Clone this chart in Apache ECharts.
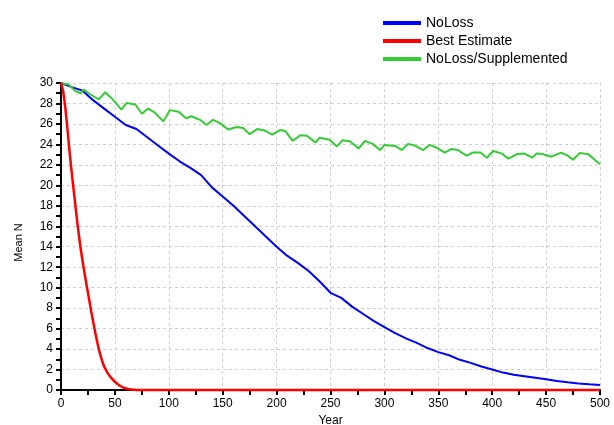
<!DOCTYPE html>
<html>
<head>
<meta charset="utf-8">
<script src="https://cdn.jsdelivr.net/npm/echarts@6/dist/echarts.min.js"></script>
<style>
  html, body { margin: 0; padding: 0; background: #fff; }
  #chart { width: 614px; height: 425px; }
</style>
</head>
<body>
<div id="chart"></div>
<script>
// Series names
const seriesNames = ['NoLoss', 'Best Estimate', 'NoLoss/Supplemented'];

// NoLoss: mean N by year
const noLossYears = [0, 10, 20, 30, 40, 50, 60, 70, 80, 90, 100, 110, 120, 130, 140, 150, 160, 170, 180, 190,
  200, 210, 220, 230, 240, 250, 260, 270, 280, 290, 300, 310, 320, 330, 340, 350, 360, 370, 380, 390,
  400, 410, 420, 430, 440, 450, 460, 470, 480, 490, 500];
const noLossValues = [30, 29.6, 29.25, 28.3, 27.5, 26.7, 25.9, 25.5, 24.7, 23.9, 23.1, 22.35, 21.7, 21.0, 19.8, 18.9, 18.0, 17.0, 16.0, 15.0,
  14.0, 13.1, 12.4, 11.6, 10.6, 9.5, 9.0, 8.15, 7.45, 6.75, 6.15, 5.55, 5.05, 4.6, 4.1, 3.7, 3.4, 2.95, 2.65, 2.3,
  2.0, 1.7, 1.5, 1.35, 1.2, 1.05, 0.88, 0.75, 0.63, 0.55, 0.49];

// Best Estimate: mean N by year
const bestYears = [0, 2, 4, 6, 8, 10, 12, 14, 16, 18, 20, 22, 24, 26, 28, 30, 32, 34, 36, 38,
  40, 43, 46, 50, 54, 58, 62, 66, 70, 500];
const bestValues = [30, 29.2, 27.6, 25.5, 23.2, 21.2, 19.3, 17.4, 15.6, 14.0, 12.6, 11.3, 10.1, 8.9, 7.7, 6.6, 5.5, 4.5, 3.6, 2.9,
  2.3, 1.7, 1.25, 0.8, 0.45, 0.22, 0.1, 0.04, 0, 0];

// NoLoss/Supplemented: mean N by year
const suppYears = [0, 7, 13, 18, 21, 27, 35, 41, 48, 56, 61, 69, 75, 81, 87, 95, 101, 109, 116, 121,
  129, 135, 141, 147, 155, 163, 169, 175, 182, 189, 196, 203, 208, 215, 222, 228, 236, 240, 249, 256,
  261, 268, 276, 282, 289, 296, 300, 310, 316, 322, 328, 336, 342, 348, 356, 362, 368, 376, 382, 389,
  395, 401, 409, 415, 423, 430, 437, 441, 447, 455, 464, 470, 475, 481, 489, 495, 500];
const suppValues = [30, 29.85, 29.25, 29.0, 29.35, 28.9, 28.4, 29.1, 28.4, 27.4, 28.05, 27.9, 27.0, 27.5, 27.1, 26.25, 27.35, 27.2, 26.55, 26.75,
  26.4, 25.9, 26.4, 26.1, 25.45, 25.7, 25.6, 25.0, 25.5, 25.35, 24.95, 25.4, 25.3, 24.35, 24.9, 24.85, 24.2, 24.65, 24.45, 23.8,
  24.4, 24.3, 23.6, 24.35, 24.05, 23.45, 23.95, 23.85, 23.45, 24.05, 23.9, 23.45, 23.95, 23.7, 23.2, 23.55, 23.45, 22.9, 23.2, 23.2,
  22.7, 23.35, 23.1, 22.6, 23.05, 23.1, 22.7, 23.1, 23.05, 22.8, 23.2, 22.9, 22.5, 23.15, 23.05, 22.5, 22.05];

const pairs = (xs, ys) => xs.map((x, i) => [x, ys[i]]);

const chart = echarts.init(document.getElementById('chart'), null, { renderer: 'canvas' });

const fontFamily = 'Liberation Sans, Arial, sans-serif';
const gridLine = { show: true, lineStyle: { color: '#cfcfcf', type: [3, 3], width: 1 } };

chart.setOption({
  animation: false,
  backgroundColor: '#ffffff',
  color: ['#0000ff', '#ff0000', '#33cc33'],
  legend: {
    data: seriesNames,
    orient: 'vertical',
    left: 378,
    top: 11,
    icon: 'rect',
    itemWidth: 38,
    itemHeight: 4,
    itemGap: 4,
    itemTextGap: 7,
    textStyle: { fontFamily, fontSize: 14, color: '#000', lineHeight: 14 }
  },
  grid: { left: 61, right: 14, top: 83, bottom: 35, containLabel: false, outerBoundsMode: 'none' },
  xAxis: {
    type: 'value',
    min: 0, max: 500, interval: 50,
    name: 'Year',
    nameLocation: 'middle',
    nameGap: 25,
    nameTextStyle: { fontFamily, fontSize: 12, color: '#000' },
    axisLine: { show: true, onZero: false, lineStyle: { color: '#000', width: 2 } },
    axisTick: { show: true, length: 5, lineStyle: { color: '#000', width: 2 } },
    minorTick: { show: true, splitNumber: 2, length: 5, lineStyle: { color: '#000', width: 2 } },
    axisLabel: { fontFamily, fontSize: 12, color: '#000', margin: 8 },
    splitLine: gridLine
  },
  yAxis: {
    type: 'value',
    min: 0, max: 30, interval: 2,
    name: 'Mean N',
    nameLocation: 'middle',
    nameGap: 37,
    nameRotate: 90,
    nameTextStyle: { fontFamily, fontSize: 11, color: '#000', padding: [0, 12, 0, 0] },
    axisLine: { show: true, onZero: false, lineStyle: { color: '#000', width: 2 } },
    axisTick: { show: true, length: 5, lineStyle: { color: '#000', width: 2 } },
    minorTick: { show: true, splitNumber: 2, length: 5, lineStyle: { color: '#000', width: 2 } },
    axisLabel: { fontFamily, fontSize: 12, color: '#000', margin: 8 },
    splitLine: gridLine
  },
  series: [
    {
      name: seriesNames[0], type: 'line', data: pairs(noLossYears, noLossValues),
      showSymbol: false, clip: false, z: 3,
      lineStyle: { color: '#0000ff', width: 2 }
    },
    {
      name: seriesNames[1], type: 'line', data: pairs(bestYears, bestValues),
      showSymbol: false, clip: false, z: 4,
      lineStyle: { color: '#ff0000', width: 2.5 }
    },
    {
      name: seriesNames[2], type: 'line', data: pairs(suppYears, suppValues),
      showSymbol: false, clip: false, z: 3,
      lineStyle: { color: '#33cc33', width: 2 }
    }
  ]
});
</script>
</body>
</html>
